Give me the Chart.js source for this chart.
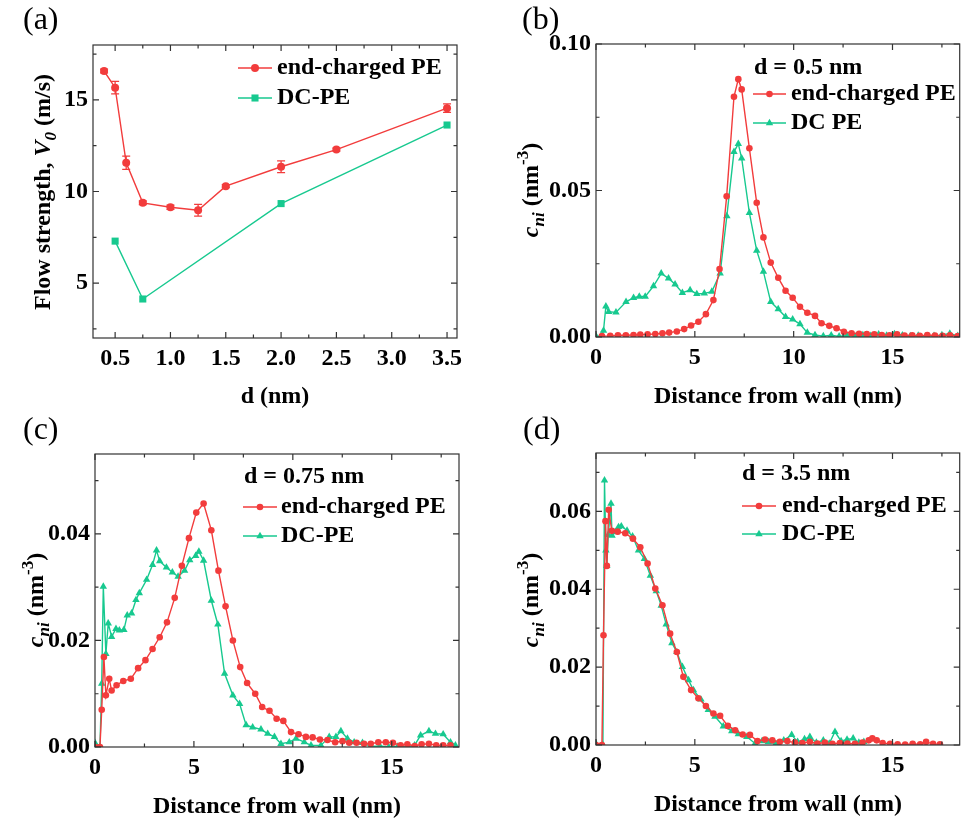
<!DOCTYPE html>
<html>
<head>
<meta charset="utf-8">
<script src="https://cdn.jsdelivr.net/npm/chart.js@4.4.1/dist/chart.umd.min.js"></script>
<style>
body { margin: 0; background: #fff; }
#fig { position: relative; width: 964px; height: 822px; font-family: "Liberation Serif", "Times New Roman", serif; color: #000; }
#fig canvas { position: absolute; }
.lbl { position: absolute; font-size: 32px; line-height: 32px; }
.ttl { position: absolute; font-size: 24px; font-weight: bold; white-space: nowrap; line-height: 1; transform: translate(-50%, -50%); }
.ttl.rot { transform: translate(-50%, -50%) rotate(-90deg); }
.sub { font-size: 17px; position: relative; top: 6px; }
.sup { font-size: 17px; position: relative; top: -10px; }
</style>
</head>
<body>
<div id="fig">
  <canvas id="chartA" width="480" height="410" style="left:0;top:0;width:480px;height:410px"></canvas>
  <canvas id="chartB" width="484" height="410" style="left:480px;top:0;width:484px;height:410px"></canvas>
  <canvas id="chartC" width="480" height="412" style="left:0;top:410px;width:480px;height:412px"></canvas>
  <canvas id="chartD" width="484" height="412" style="left:480px;top:410px;width:484px;height:412px"></canvas>

  <div class="lbl" style="left:23px;top:2px">(a)</div>
  <div class="lbl" style="left:522px;top:2px">(b)</div>
  <div class="lbl" style="left:23px;top:412px">(c)</div>
  <div class="lbl" style="left:523px;top:412px">(d)</div>

  <div class="ttl" style="left:275px;top:395px">d (nm)</div>
  <div class="ttl rot" style="left:42px;top:192px">Flow strength, <i>V</i><span class="sub"><i>0</i></span> (m/s)</div>
  <div class="ttl" style="left:778px;top:395px">Distance from wall (nm)</div>
  <div class="ttl rot" style="left:530px;top:190px"><i>c</i><span class="sub"><i>ni</i></span> (nm<span class="sup">-3</span>)</div>
  <div class="ttl" style="left:277px;top:805px">Distance from wall (nm)</div>
  <div class="ttl rot" style="left:35px;top:600px"><i>c</i><span class="sub"><i>ni</i></span> (nm<span class="sup">-3</span>)</div>
  <div class="ttl" style="left:778px;top:803px">Distance from wall (nm)</div>
  <div class="ttl rot" style="left:530px;top:600px"><i>c</i><span class="sub"><i>ni</i></span> (nm<span class="sup">-3</span>)</div>
</div>

<script>
// colours
const RED = '#f23c3c';
const GREEN = '#17c98f';
const FONT = '"Liberation Serif", "Times New Roman", serif';

// ---------- (a) flow strength vs d ----------
const A_D_RED = [0.4, 0.5, 0.6, 0.75, 1.0, 1.25, 1.5, 2.0, 2.5, 3.5];
const A_V_RED = [16.58, 15.67, 11.57, 9.38, 9.14, 8.98, 10.29, 11.35, 12.29, 14.55];
const A_ERR_RED = [0.1, 0.34, 0.36, 0.1, 0.12, 0.32, 0.08, 0.32, 0.08, 0.23];
const A_D_DC = [0.5, 0.75, 2.0, 3.5];
const A_V_DC = [7.29, 4.13, 9.34, 13.63];
const A_X_TICKS = [0.5, 1.0, 1.5, 2.0, 2.5, 3.0, 3.5];
const A_Y_TICKS = [5, 10, 15];

// ---------- (b) d = 0.5 nm ----------
const B_X_RED = [0.30, 0.72, 1.11, 1.51, 1.90, 2.24, 2.61, 3.00, 3.36, 3.70, 4.09, 4.46, 4.81, 5.18, 5.56, 5.94, 6.25, 6.61, 6.98, 7.20, 7.37, 7.76, 8.13, 8.47, 8.84, 9.22, 9.59, 9.95, 10.32, 10.69, 11.08, 11.41, 11.80, 12.17, 12.54, 12.93, 13.31, 13.70, 14.08, 14.46, 14.85, 15.23, 15.61, 16.00, 16.38, 16.76, 17.15, 17.53, 17.91, 18.30];
const B_Y_RED = [0.0003, 0.0004, 0.0006, 0.0006, 0.0007, 0.0008, 0.0009, 0.0010, 0.0013, 0.0015, 0.0019, 0.0027, 0.0039, 0.0052, 0.0078, 0.0126, 0.0232, 0.0480, 0.0820, 0.0880, 0.0845, 0.0644, 0.0458, 0.0340, 0.0254, 0.0202, 0.0158, 0.0134, 0.0103, 0.0083, 0.0072, 0.0047, 0.0038, 0.0030, 0.0018, 0.0013, 0.0011, 0.0010, 0.0009, 0.0007, 0.0006, 0.0009, 0.0005, 0.0006, 0.0004, 0.0007, 0.0005, 0.0004, 0.0006, 0.0003];
const B_X_DC = [0.00, 0.30, 0.38, 0.50, 0.64, 1.01, 1.52, 1.90, 2.19, 2.49, 2.91, 3.30, 3.67, 4.00, 4.37, 4.76, 5.10, 5.48, 5.86, 6.28, 6.62, 6.98, 7.20, 7.37, 7.76, 8.13, 8.47, 8.84, 9.22, 9.59, 9.95, 10.32, 10.69, 11.08, 11.50, 11.90, 12.30, 12.70, 13.10, 13.50, 13.90, 14.30, 14.70, 15.10, 15.50, 15.90, 16.30, 16.70, 17.10, 17.50, 17.90, 18.30];
const B_Y_DC = [0.0003, 0.0003, 0.0022, 0.0105, 0.0086, 0.0084, 0.0120, 0.0134, 0.0138, 0.0138, 0.0174, 0.0217, 0.0200, 0.0180, 0.0151, 0.0160, 0.0147, 0.0149, 0.0155, 0.0217, 0.0413, 0.0632, 0.0659, 0.0610, 0.0424, 0.0295, 0.0223, 0.0120, 0.0095, 0.0069, 0.0060, 0.0044, 0.0015, 0.0007, 0.0003, 0.0006, 0.0002, 0.0005, 0.0003, 0.0007, 0.0004, 0.0009, 0.0005, 0.0010, 0.0006, 0.0003, 0.0005, 0.0002, 0.0004, 0.0007, 0.0012, 0.0004];
const B_X_TICKS = [0, 5, 10, 15];
const B_Y_TICKS = [0, 0.05, 0.10];

// ---------- (c) d = 0.75 nm ----------
const C_X_RED = [0.00, 0.25, 0.34, 0.45, 0.55, 0.72, 0.84, 1.09, 1.43, 1.81, 2.18, 2.55, 2.91, 3.27, 3.64, 4.03, 4.39, 4.75, 5.12, 5.49, 5.88, 6.24, 6.60, 6.97, 7.34, 7.69, 8.10, 8.45, 8.82, 9.18, 9.52, 9.91, 10.29, 10.66, 11.00, 11.37, 11.75, 12.14, 12.51, 12.85, 13.22, 13.60, 13.94, 14.32, 14.70, 15.06, 15.45, 15.79, 16.16, 16.51, 16.88, 17.25, 17.60, 17.97];
const C_Y_RED = [0.0000, 0.0000, 0.0070, 0.0169, 0.0097, 0.0128, 0.0106, 0.0116, 0.0124, 0.0128, 0.0148, 0.0163, 0.0184, 0.0206, 0.0234, 0.0280, 0.0340, 0.0392, 0.0440, 0.0457, 0.0407, 0.0331, 0.0264, 0.0200, 0.0150, 0.0120, 0.0100, 0.0075, 0.0068, 0.0053, 0.0049, 0.0028, 0.0024, 0.0019, 0.0018, 0.0014, 0.0013, 0.0009, 0.0011, 0.0008, 0.0008, 0.0006, 0.0006, 0.0009, 0.0009, 0.0008, 0.0003, 0.0005, 0.0002, 0.0005, 0.0006, 0.0003, 0.0003, 0.0003];
const C_X_DC = [0.00, 0.25, 0.34, 0.42, 0.55, 0.67, 0.84, 1.06, 1.23, 1.46, 1.63, 1.85, 2.07, 2.24, 2.61, 2.91, 3.11, 3.27, 3.61, 3.91, 4.20, 4.53, 4.79, 5.09, 5.25, 5.49, 5.88, 6.21, 6.55, 6.97, 7.31, 7.64, 7.97, 8.39, 8.73, 9.07, 9.40, 9.82, 10.16, 10.58, 10.92, 11.42, 11.84, 12.18, 12.43, 12.76, 13.10, 13.52, 13.94, 14.40, 14.85, 15.30, 15.75, 16.15, 16.46, 16.88, 17.21, 17.60, 17.97, 18.22];
const C_Y_DC = [0.0008, 0.0000, 0.0119, 0.0301, 0.0175, 0.0232, 0.0207, 0.0222, 0.0219, 0.0220, 0.0247, 0.0251, 0.0276, 0.0289, 0.0314, 0.0342, 0.0369, 0.0349, 0.0337, 0.0328, 0.0320, 0.0331, 0.0351, 0.0359, 0.0367, 0.0350, 0.0275, 0.0230, 0.0138, 0.0097, 0.0081, 0.0041, 0.0037, 0.0033, 0.0025, 0.0019, 0.0006, 0.0009, 0.0016, 0.0009, 0.0003, 0.0003, 0.0019, 0.0019, 0.0030, 0.0016, 0.0009, 0.0008, 0.0001, 0.0002, 0.0000, 0.0001, 0.0000, 0.0003, 0.0022, 0.0030, 0.0025, 0.0024, 0.0009, 0.0003];
const C_Y_TICKS = [0, 0.02, 0.04];

// ---------- (d) d = 3.5 nm ----------
const D_X_RED = [0.00, 0.30, 0.38, 0.48, 0.55, 0.64, 0.80, 1.10, 1.48, 1.87, 2.24, 2.61, 3.00, 3.36, 3.75, 4.09, 4.42, 4.81, 5.18, 5.56, 5.94, 6.28, 6.67, 7.04, 7.42, 7.79, 8.17, 8.55, 8.92, 9.30, 9.68, 10.06, 10.44, 10.82, 11.20, 11.58, 11.96, 12.34, 12.72, 13.10, 13.48, 13.80, 13.98, 14.20, 14.50, 14.88, 15.26, 15.64, 16.02, 16.40, 16.70, 17.05, 17.40];
const D_Y_RED = [0.0000, 0.0000, 0.0282, 0.0575, 0.0460, 0.0604, 0.0550, 0.0548, 0.0544, 0.0530, 0.0508, 0.0466, 0.0402, 0.0359, 0.0286, 0.0239, 0.0175, 0.0141, 0.0120, 0.0100, 0.0081, 0.0075, 0.0049, 0.0038, 0.0027, 0.0026, 0.0010, 0.0014, 0.0012, 0.0008, 0.0010, 0.0006, 0.0005, 0.0008, 0.0004, 0.0006, 0.0003, 0.0005, 0.0004, 0.0003, 0.0006, 0.0012, 0.0017, 0.0012, 0.0005, 0.0003, 0.0002, 0.0001, 0.0003, 0.0002, 0.0008, 0.0003, 0.0002];
const D_X_DC = [0.00, 0.35, 0.43, 0.50, 0.55, 0.62, 0.76, 0.81, 0.97, 1.14, 1.28, 1.57, 1.85, 2.15, 2.45, 2.75, 3.05, 3.30, 3.55, 3.84, 4.09, 4.37, 4.68, 4.93, 5.31, 5.68, 6.02, 6.44, 6.87, 7.20, 7.63, 8.05, 8.40, 8.72, 9.10, 9.50, 9.90, 10.20, 10.55, 10.82, 11.15, 11.50, 11.80, 12.09, 12.40, 12.70, 13.01, 13.30, 13.55];
const D_Y_DC = [0.0003, 0.0000, 0.0680, 0.0500, 0.0460, 0.0540, 0.0620, 0.0538, 0.0547, 0.0560, 0.0562, 0.0551, 0.0536, 0.0500, 0.0478, 0.0435, 0.0395, 0.0358, 0.0310, 0.0262, 0.0239, 0.0201, 0.0167, 0.0141, 0.0117, 0.0090, 0.0073, 0.0048, 0.0036, 0.0028, 0.0021, 0.0004, 0.0010, 0.0008, 0.0003, 0.0012, 0.0026, 0.0008, 0.0015, 0.0021, 0.0006, 0.0012, 0.0004, 0.0034, 0.0010, 0.0014, 0.0017, 0.0006, 0.0008];
const D_Y_TICKS = [0, 0.02, 0.04, 0.06];

const pts = (xs, ys) => xs.map((x, i) => ({ x: x, y: ys[i] }));

// small marker painter (legend samples)
function drawMarker(ctx, style, r, x, y, color) {
    ctx.fillStyle = color;
    ctx.beginPath();
    if (style === 'rect') {
        const s = r * Math.SQRT1_2;
        ctx.rect(x - s, y - s, 2 * s, 2 * s);
    } else if (style === 'triangle') {
        const h = r * 1.5;
        const e = r * Math.sqrt(3) / 2;
        ctx.moveTo(x, y - r);
        ctx.lineTo(x + e, y - r + h);
        ctx.lineTo(x - e, y - r + h);
        ctx.closePath();
    } else {
        ctx.arc(x, y, r, 0, Math.PI * 2);
    }
    ctx.fill();
}

// box round the plot with inward major/minor ticks on all four sides
const framePlugin = {
    id: 'frame',
    afterDraw(chart) {
        const { ctx, chartArea: a } = chart;
        ctx.save();
        ctx.strokeStyle = '#333';
        ctx.lineWidth = 1.2;
        ctx.strokeRect(a.left, a.top, a.right - a.left, a.bottom - a.top);

        const ticks = (scale, horizontal) => {
            const vals = scale.ticks.map(t => t.value);
            const half = (vals[1] - vals[0]) / 2;
            const k0 = Math.ceil(scale.min / half - 1e-6);
            const k1 = Math.floor(scale.max / half + 1e-6);
            for (let k = k0; k <= k1; k++) {
                const len = (Math.abs(k) % 2 === 0) ? 6 : 3.5;
                const p = scale.getPixelForValue(k * half);
                ctx.beginPath();
                if (horizontal) {
                    ctx.moveTo(p, a.bottom); ctx.lineTo(p, a.bottom - len);
                    ctx.moveTo(p, a.top); ctx.lineTo(p, a.top + len);
                } else {
                    ctx.moveTo(a.left, p); ctx.lineTo(a.left + len, p);
                    ctx.moveTo(a.right, p); ctx.lineTo(a.right - len, p);
                }
                ctx.stroke();
            }
        };
        ticks(chart.scales.x, true);
        ticks(chart.scales.y, false);
        ctx.restore();
    }
};

// error bars for datasets carrying an "errors" array
const errorBarPlugin = {
    id: 'errorBars',
    beforeDatasetsDraw(chart) {
        const { ctx } = chart;
        const ys = chart.scales.y;
        chart.data.datasets.forEach((ds, i) => {
            if (!ds.errors) return;
            const meta = chart.getDatasetMeta(i);
            ctx.save();
            ctx.strokeStyle = ds.borderColor;
            ctx.lineWidth = 1.3;
            ds.data.forEach((p, j) => {
                const x = meta.data[j].x;
                const yt = ys.getPixelForValue(p.y + ds.errors[j]);
                const yb = ys.getPixelForValue(p.y - ds.errors[j]);
                ctx.beginPath();
                ctx.moveTo(x, yt); ctx.lineTo(x, yb);
                ctx.moveTo(x - 4, yt); ctx.lineTo(x + 4, yt);
                ctx.moveTo(x - 4, yb); ctx.lineTo(x + 4, yb);
                ctx.stroke();
            });
            ctx.restore();
        });
    }
};

// legend drawn inside the plot, Origin style
const panelLegendPlugin = {
    id: 'panelLegend',
    afterDraw(chart, args, o) {
        if (!o || !o.rows) return;
        const { ctx } = chart;
        ctx.save();
        ctx.font = 'bold 24px ' + FONT;
        ctx.fillStyle = '#000';
        ctx.textBaseline = 'middle';
        ctx.textAlign = 'left';
        if (o.header) ctx.fillText(o.header, o.hx, o.hy);
        chart.data.datasets.forEach((ds, i) => {
            const y = o.rows[i];
            ctx.strokeStyle = ds.borderColor;
            ctx.lineWidth = 1.3;
            ctx.beginPath();
            ctx.moveTo(o.lx, y); ctx.lineTo(o.lx + o.len, y);
            ctx.stroke();
            drawMarker(ctx, ds.pointStyle, ds.pointRadius, o.lx + o.len / 2, y, ds.backgroundColor);
            ctx.fillStyle = '#000';
            ctx.fillText(ds.label, o.tx, y);
        });
        ctx.restore();
    }
};

function series(label, data, color, style, radius) {
    return {
        label: label,
        data: data,
        showLine: true,
        borderColor: color,
        backgroundColor: color,
        borderWidth: 1.4,
        pointStyle: style,
        pointRadius: radius,
        pointBorderWidth: 0,
        pointHoverRadius: radius
    };
}

function axis(min, max, tickList, fmt, fitSize, horizontal) {
    return {
        type: 'linear',
        min: min,
        max: max,
        grid: { display: false, drawTicks: false },
        border: { display: false },
        afterBuildTicks: s => { s.ticks = tickList.map(v => ({ value: v })); },
        afterFit: s => { if (horizontal) s.height = fitSize; else s.width = fitSize; },
        ticks: {
            autoSkip: false,
            maxRotation: 0,
            padding: horizontal ? 6 : 5,
            color: '#000',
            font: { family: FONT, size: 24, weight: 'bold' },
            callback: v => fmt(v)
        }
    };
}

function makePanel(id, datasets, xAxis, yAxis, pad, legend) {
    return new Chart(document.getElementById(id), {
        type: 'scatter',
        data: { datasets: datasets },
        options: {
            responsive: false,
            animation: false,
            events: [],
            layout: { padding: pad },
            scales: { x: xAxis, y: yAxis },
            plugins: {
                legend: { display: false },
                tooltip: { enabled: false },
                panelLegend: legend
            }
        },
        plugins: [errorBarPlugin, framePlugin, panelLegendPlugin]
    });
}

const f1 = v => v.toFixed(1);
const f0 = v => v.toFixed(0);
const f2 = v => v.toFixed(2);

document.addEventListener('DOMContentLoaded', () => {
    // (a)
    const redA = series('end-charged PE', pts(A_D_RED, A_V_RED), RED, 'circle', 4);
    redA.errors = A_ERR_RED;
    makePanel('chartA',
        [redA, series('DC-PE', pts(A_D_DC, A_V_DC), GREEN, 'rect', 5)],
        axis(0.3, 3.59, A_X_TICKS, f1, 72, true),
        axis(2, 18, A_Y_TICKS, f0, 93, false),
        { left: 0, right: 23, top: 45, bottom: 0 },
        { rows: [68, 98], lx: 238, len: 34, tx: 277 });

    // (b)
    makePanel('chartB',
        [series('end-charged PE', pts(B_X_RED, B_Y_RED), RED, 'circle', 3.3),
         series('DC PE', pts(B_X_DC, B_Y_DC), GREEN, 'triangle', 4.3)],
        axis(0, 18.4, B_X_TICKS, f0, 73, true),
        axis(0, 0.10, B_Y_TICKS, f2, 116, false),
        { left: 0, right: 4, top: 44, bottom: 0 },
        { header: 'd = 0.5 nm', hx: 274, hy: 68, rows: [94, 123], lx: 273, len: 33, tx: 311 });

    // (c)
    makePanel('chartC',
        [series('end-charged PE', pts(C_X_RED, C_Y_RED), RED, 'circle', 3.3),
         series('DC-PE', pts(C_X_DC, C_Y_DC), GREEN, 'triangle', 4.3)],
        axis(0, 18.4, B_X_TICKS, f0, 75, true),
        axis(0, 0.055, C_Y_TICKS, f2, 95, false),
        { left: 0, right: 21, top: 44, bottom: 0 },
        { header: 'd = 0.75 nm', hx: 244, hy: 67, rows: [97, 126], lx: 243, len: 34, tx: 281 });

    // (d)
    makePanel('chartD',
        [series('end-charged PE', pts(D_X_RED, D_Y_RED), RED, 'circle', 3.3),
         series('DC-PE', pts(D_X_DC, D_Y_DC), GREEN, 'triangle', 4.3)],
        axis(0, 18.4, B_X_TICKS, f0, 77, true),
        axis(0, 0.075, D_Y_TICKS, f2, 116, false),
        { left: 0, right: 4, top: 43, bottom: 0 },
        { header: 'd = 3.5 nm', hx: 262, hy: 64, rows: [96, 124], lx: 262, len: 34, tx: 302 });
});
</script>
</body>
</html>
